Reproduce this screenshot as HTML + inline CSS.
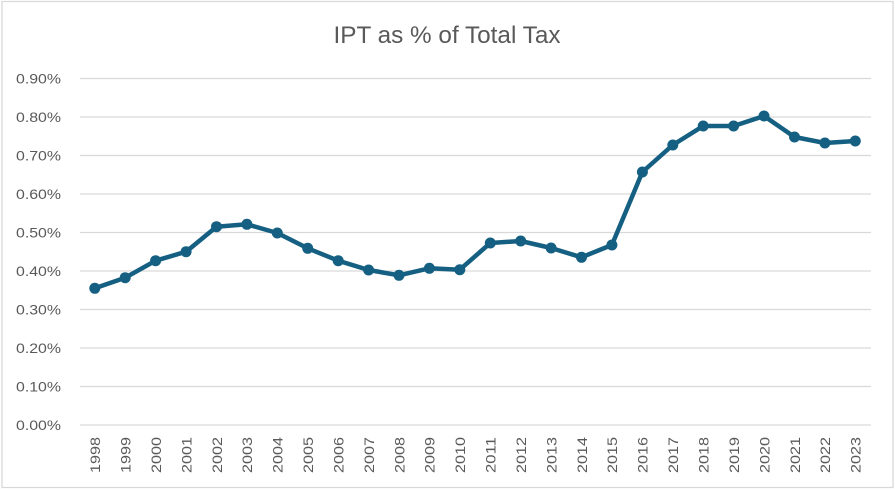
<!DOCTYPE html>
<html>
<head>
<meta charset="utf-8">
<style>
html,body{margin:0;padding:0;background:#fff;}
svg{display:block;}
text{font-family:"Liberation Sans",sans-serif;fill:#595959;}
</style>
</head>
<body>
<svg width="895" height="490" viewBox="0 0 895 490" xmlns="http://www.w3.org/2000/svg">
<rect x="0" y="0" width="895" height="490" fill="#fff"/>
<rect x="2" y="1.5" width="891" height="486" fill="none" stroke="#d9d9d9" stroke-width="1.3"/>
<text x="447" y="43" font-size="24" text-anchor="middle" textLength="227" lengthAdjust="spacingAndGlyphs">IPT as % of Total Tax</text>
<g stroke="#d9d9d9" stroke-width="1.3">
<line x1="80" x2="871" y1="425" y2="425"/>
<line x1="80" x2="871" y1="386.5" y2="386.5"/>
<line x1="80" x2="871" y1="348" y2="348"/>
<line x1="80" x2="871" y1="309.5" y2="309.5"/>
<line x1="80" x2="871" y1="271" y2="271"/>
<line x1="80" x2="871" y1="232.5" y2="232.5"/>
<line x1="80" x2="871" y1="194" y2="194"/>
<line x1="80" x2="871" y1="155.5" y2="155.5"/>
<line x1="80" x2="871" y1="117" y2="117"/>
<line x1="80" x2="871" y1="78.5" y2="78.5"/>
</g>
<g font-size="14" text-anchor="end">
<text x="61" y="430" textLength="45" lengthAdjust="spacingAndGlyphs">0.00%</text>
<text x="61" y="391.5" textLength="45" lengthAdjust="spacingAndGlyphs">0.10%</text>
<text x="61" y="353" textLength="45" lengthAdjust="spacingAndGlyphs">0.20%</text>
<text x="61" y="314.5" textLength="45" lengthAdjust="spacingAndGlyphs">0.30%</text>
<text x="61" y="276" textLength="45" lengthAdjust="spacingAndGlyphs">0.40%</text>
<text x="61" y="237.5" textLength="45" lengthAdjust="spacingAndGlyphs">0.50%</text>
<text x="61" y="199" textLength="45" lengthAdjust="spacingAndGlyphs">0.60%</text>
<text x="61" y="160.5" textLength="45" lengthAdjust="spacingAndGlyphs">0.70%</text>
<text x="61" y="122" textLength="45" lengthAdjust="spacingAndGlyphs">0.80%</text>
<text x="61" y="83.5" textLength="45" lengthAdjust="spacingAndGlyphs">0.90%</text>
</g>
<g font-size="14" text-anchor="end">
<text transform="translate(100.1,437) rotate(-90)" textLength="36" lengthAdjust="spacingAndGlyphs">1998</text>
<text transform="translate(130.5,437) rotate(-90)" textLength="36" lengthAdjust="spacingAndGlyphs">1999</text>
<text transform="translate(160.9,437) rotate(-90)" textLength="36" lengthAdjust="spacingAndGlyphs">2000</text>
<text transform="translate(191.4,437) rotate(-90)" textLength="36" lengthAdjust="spacingAndGlyphs">2001</text>
<text transform="translate(221.8,437) rotate(-90)" textLength="36" lengthAdjust="spacingAndGlyphs">2002</text>
<text transform="translate(252.2,437) rotate(-90)" textLength="36" lengthAdjust="spacingAndGlyphs">2003</text>
<text transform="translate(282.6,437) rotate(-90)" textLength="36" lengthAdjust="spacingAndGlyphs">2004</text>
<text transform="translate(313.0,437) rotate(-90)" textLength="36" lengthAdjust="spacingAndGlyphs">2005</text>
<text transform="translate(343.5,437) rotate(-90)" textLength="36" lengthAdjust="spacingAndGlyphs">2006</text>
<text transform="translate(373.9,437) rotate(-90)" textLength="36" lengthAdjust="spacingAndGlyphs">2007</text>
<text transform="translate(404.3,437) rotate(-90)" textLength="36" lengthAdjust="spacingAndGlyphs">2008</text>
<text transform="translate(434.7,437) rotate(-90)" textLength="36" lengthAdjust="spacingAndGlyphs">2009</text>
<text transform="translate(465.1,437) rotate(-90)" textLength="36" lengthAdjust="spacingAndGlyphs">2010</text>
<text transform="translate(495.6,437) rotate(-90)" textLength="36" lengthAdjust="spacingAndGlyphs">2011</text>
<text transform="translate(526.0,437) rotate(-90)" textLength="36" lengthAdjust="spacingAndGlyphs">2012</text>
<text transform="translate(556.4,437) rotate(-90)" textLength="36" lengthAdjust="spacingAndGlyphs">2013</text>
<text transform="translate(586.8,437) rotate(-90)" textLength="36" lengthAdjust="spacingAndGlyphs">2014</text>
<text transform="translate(617.2,437) rotate(-90)" textLength="36" lengthAdjust="spacingAndGlyphs">2015</text>
<text transform="translate(647.7,437) rotate(-90)" textLength="36" lengthAdjust="spacingAndGlyphs">2016</text>
<text transform="translate(678.1,437) rotate(-90)" textLength="36" lengthAdjust="spacingAndGlyphs">2017</text>
<text transform="translate(708.5,437) rotate(-90)" textLength="36" lengthAdjust="spacingAndGlyphs">2018</text>
<text transform="translate(738.9,437) rotate(-90)" textLength="36" lengthAdjust="spacingAndGlyphs">2019</text>
<text transform="translate(769.3,437) rotate(-90)" textLength="36" lengthAdjust="spacingAndGlyphs">2020</text>
<text transform="translate(799.8,437) rotate(-90)" textLength="36" lengthAdjust="spacingAndGlyphs">2021</text>
<text transform="translate(830.2,437) rotate(-90)" textLength="36" lengthAdjust="spacingAndGlyphs">2022</text>
<text transform="translate(860.6,437) rotate(-90)" textLength="36" lengthAdjust="spacingAndGlyphs">2023</text>
</g>
<polyline fill="none" stroke="#156082" stroke-width="4.5" stroke-linejoin="round" stroke-linecap="round"
points="94.8,288.3 125.2,277.7 155.6,260.7 186.1,251.7 216.5,226.7 246.9,224.3 277.3,233 307.7,248.3 338.2,260.7 368.6,270 399.0,275.3 429.4,268.3 459.8,269.7 490.3,243 520.7,241 551.1,248 581.5,257.3 611.9,245 642.4,172 672.8,145 703.2,126 733.6,126 764.0,116 794.5,137 824.9,143 855.3,141"/>
<g fill="#156082">
<circle cx="94.8" cy="288.3" r="5.5"/>
<circle cx="125.2" cy="277.7" r="5.5"/>
<circle cx="155.6" cy="260.7" r="5.5"/>
<circle cx="186.1" cy="251.7" r="5.5"/>
<circle cx="216.5" cy="226.7" r="5.5"/>
<circle cx="246.9" cy="224.3" r="5.5"/>
<circle cx="277.3" cy="233" r="5.5"/>
<circle cx="307.7" cy="248.3" r="5.5"/>
<circle cx="338.2" cy="260.7" r="5.5"/>
<circle cx="368.6" cy="270" r="5.5"/>
<circle cx="399.0" cy="275.3" r="5.5"/>
<circle cx="429.4" cy="268.3" r="5.5"/>
<circle cx="459.8" cy="269.7" r="5.5"/>
<circle cx="490.3" cy="243" r="5.5"/>
<circle cx="520.7" cy="241" r="5.5"/>
<circle cx="551.1" cy="248" r="5.5"/>
<circle cx="581.5" cy="257.3" r="5.5"/>
<circle cx="611.9" cy="245" r="5.5"/>
<circle cx="642.4" cy="172" r="5.5"/>
<circle cx="672.8" cy="145" r="5.5"/>
<circle cx="703.2" cy="126" r="5.5"/>
<circle cx="733.6" cy="126" r="5.5"/>
<circle cx="764.0" cy="116" r="5.5"/>
<circle cx="794.5" cy="137" r="5.5"/>
<circle cx="824.9" cy="143" r="5.5"/>
<circle cx="855.3" cy="141" r="5.5"/>
</g>
</svg>
</body>
</html>
